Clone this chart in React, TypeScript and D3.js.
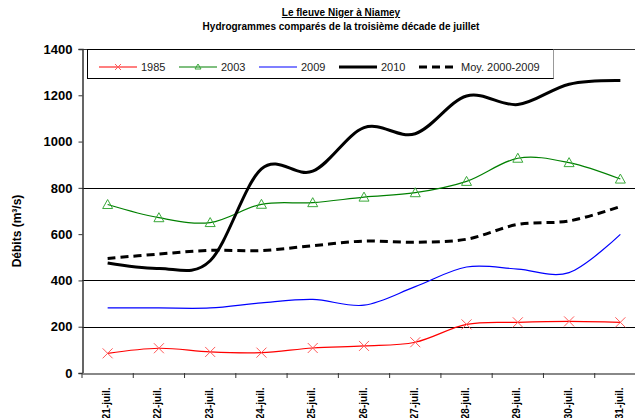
import * as d3 from "d3";
import { useEffect, useRef } from "react";

// jours
const days = ["21-juil.", "22-juil.", "23-juil.", "24-juil.", "25-juil.", "26-juil.", "27-juil.", "28-juil.", "29-juil.", "30-juil.", "31-juil."];

// débits (m3/s)
const q1985 = [85, 107, 91, 88, 108, 117, 133, 210, 219, 223, 219];
const q2003 = [728, 671, 650, 729, 736, 760, 779, 828, 928, 909, 838];
const q2009 = [281, 281, 281, 303, 318, 293, 373, 458, 449, 434, 599];
const q2010 = [475, 452, 485, 882, 872, 1060, 1034, 1197, 1160, 1248, 1264];
const qMoy = [495, 514, 530, 529, 550, 570, 565, 578, 642, 657, 719];

const yTicks = [0, 200, 400, 600, 800, 1000, 1200, 1400];
const gridValues = [200, 400, 800];

const series = [
    { name: "1985", values: q1985, color: "#ff0000", width: 1.2, dash: null, marker: "x" },
    { name: "2003", values: q2003, color: "#008000", width: 1.2, dash: null, marker: "tri" },
    { name: "2009", values: q2009, color: "#0000ff", width: 1.2, dash: null, marker: null },
    { name: "2010", values: q2010, color: "#000000", width: 3, dash: null, marker: null },
    { name: "Moy. 2000-2009", values: qMoy, color: "#000000", width: 3, dash: "8,5", marker: null },
];

const App = () => {
    const chartRef = useRef(null);

    const width = 635;
    const height = 418;
    const margin = { top: 49, left: 82, right: -11, bottom: 45 };

    useEffect(() => {
        const svg = d3.select(chartRef.current);
        svg.selectAll("*").remove();

        const font = "'Liberation Sans', Arial, sans-serif";

        const scaleX = d3.scaleBand()
            .domain(days)
            .range([margin.left, width - margin.right]);

        const scaleY = d3.scaleLinear()
            .domain([0, 1400])
            .range([height - margin.bottom, margin.top]);

        // titre
        svg.append("text")
            .attr("x", 341).attr("y", 16)
            .attr("text-anchor", "middle")
            .style("font-family", font).style("font-size", "10px").style("font-weight", "bold")
            .style("text-decoration", "underline")
            .text("Le fleuve Niger à Niamey");
        svg.append("text")
            .attr("x", 341).attr("y", 30)
            .attr("text-anchor", "middle")
            .style("font-family", font).style("font-size", "10px").style("font-weight", "bold")
            .text("Hydrogrammes comparés de la troisième décade de juillet");

        // grille
        svg.append("g")
            .selectAll("line")
            .data(gridValues)
            .enter()
            .append("line")
            .attr("x1", margin.left).attr("x2", width)
            .attr("y1", d => Math.round(scaleY(d)) + 0.5)
            .attr("y2", d => Math.round(scaleY(d)) + 0.5)
            .attr("stroke", "#000").attr("stroke-width", 1);

        // cadre haut
        svg.append("line")
            .attr("x1", margin.left).attr("x2", width)
            .attr("y1", scaleY(1400) + 0.5).attr("y2", scaleY(1400) + 0.5)
            .attr("stroke", "#333");

        // axe Y
        const yAxis = d3.axisLeft(scaleY).tickValues(yTicks).tickFormat(d3.format("d")).tickSize(4).tickPadding(6);
        const gy = svg.append("g")
            .attr("transform", `translate(${margin.left + 0.5}, 0)`)
            .call(yAxis);
        gy.select(".domain").attr("stroke", "#333").attr("stroke-width", 1.5);
        gy.selectAll("line").attr("stroke", "#333");
        gy.selectAll("text")
            .style("font-family", font).style("font-size", "13px").style("font-weight", "bold")
            .attr("fill", "#000");

        // axe X
        const xAxis = d3.axisBottom(scaleX).tickSize(0).tickPadding(0);
        const gx = svg.append("g")
            .attr("transform", `translate(0, ${height - margin.bottom + 0.5})`)
            .call(xAxis);
        gx.select(".domain").attr("stroke", "#888").attr("stroke-width", 2);
        gx.selectAll("text")
            .style("font-family", font).style("font-size", "10px").style("font-weight", "bold")
            .attr("fill", "#000")
            .style("text-anchor", "end")
            .attr("transform", "rotate(-90)")
            .attr("x", -14).attr("y", -1).attr("dy", "0.35em");
        svg.append("g")
            .selectAll("line")
            .data(days)
            .enter()
            .append("line")
            .attr("x1", d => scaleX(d)).attr("x2", d => scaleX(d))
            .attr("y1", height - margin.bottom).attr("y2", height - margin.bottom + 5)
            .attr("stroke", "#333");

        // titre axe Y
        svg.append("text")
            .attr("transform", `translate(21, ${(scaleY(0) + scaleY(1400)) / 2 + 20}) rotate(-90)`)
            .attr("text-anchor", "middle")
            .style("font-family", font).style("font-size", "12px").style("font-weight", "bold")
            .text("Débits (m³/s)");

        // courbes
        const cx = (i) => scaleX(days[i]) + scaleX.bandwidth() / 2;
        const line = d3.line()
            .x((d, i) => cx(i))
            .y(d => scaleY(d))
            .curve(d3.curveCatmullRom.alpha(0));

        series.forEach(s => {
            svg.append("path")
                .datum(s.values)
                .attr("d", line)
                .attr("fill", "none")
                .attr("stroke", s.color)
                .attr("stroke-width", s.width)
                .attr("stroke-dasharray", s.dash);

            if (s.marker === "x") {
                svg.append("g").selectAll("path")
                    .data(s.values)
                    .enter()
                    .append("path")
                    .attr("transform", (d, i) => `translate(${cx(i)}, ${scaleY(d)})`)
                    .attr("d", "M-5,-5L5,5M-5,5L5,-5")
                    .attr("stroke", "#ff5a5a").attr("stroke-width", 1).attr("fill", "none");
            }
            if (s.marker === "tri") {
                svg.append("g").selectAll("path")
                    .data(s.values)
                    .enter()
                    .append("path")
                    .attr("transform", (d, i) => `translate(${cx(i)}, ${scaleY(d)})`)
                    .attr("d", "M0,-5L5,4L-5,4Z")
                    .attr("stroke", "#3aa83a").attr("stroke-width", 1).attr("fill", "none");
            }
        });

        // légende
        const lg = svg.append("g");
        lg.append("rect")
            .attr("x", 87.5).attr("y", 49.5).attr("width", 466).attr("height", 29)
            .attr("fill", "#fff").attr("stroke", "#000").attr("stroke-width", 1);
        lg.append("line")
            .attr("x1", 553.5).attr("x2", 553.5).attr("y1", 49.5).attr("y2", 78.5)
            .attr("stroke", "#999");

        series.forEach((s, k) => {
            const x0 = 99 + k * 80;
            const y0 = 67;
            lg.append("line")
                .attr("x1", x0).attr("x2", x0 + 38)
                .attr("y1", y0).attr("y2", y0)
                .attr("stroke", s.color)
                .attr("stroke-width", s.width)
                .attr("stroke-dasharray", s.dash);
            if (s.marker === "x") {
                lg.append("path")
                    .attr("transform", `translate(${x0 + 19}, ${y0})`)
                    .attr("d", "M-3,-3L3,3M-3,3L3,-3")
                    .attr("stroke", "#ff5a5a").attr("fill", "none");
            }
            if (s.marker === "tri") {
                lg.append("path")
                    .attr("transform", `translate(${x0 + 19}, ${y0})`)
                    .attr("d", "M0,-3L3,2L-3,2Z")
                    .attr("stroke", "#3aa83a").attr("fill", "none");
            }
            lg.append("text")
                .attr("x", x0 + 42).attr("y", y0 + 4)
                .style("font-family", font).style("font-size", "11px")
                .attr("fill", "#222")
                .text(s.name);
        });
    }, []);

    return (
        <div style={{ position: "absolute", left: 0, top: 0 }}>
            <svg ref={chartRef} width={width} height={height} style={{ display: "block", background: "#fff" }}></svg>
        </div>
    );
};

export default App;
